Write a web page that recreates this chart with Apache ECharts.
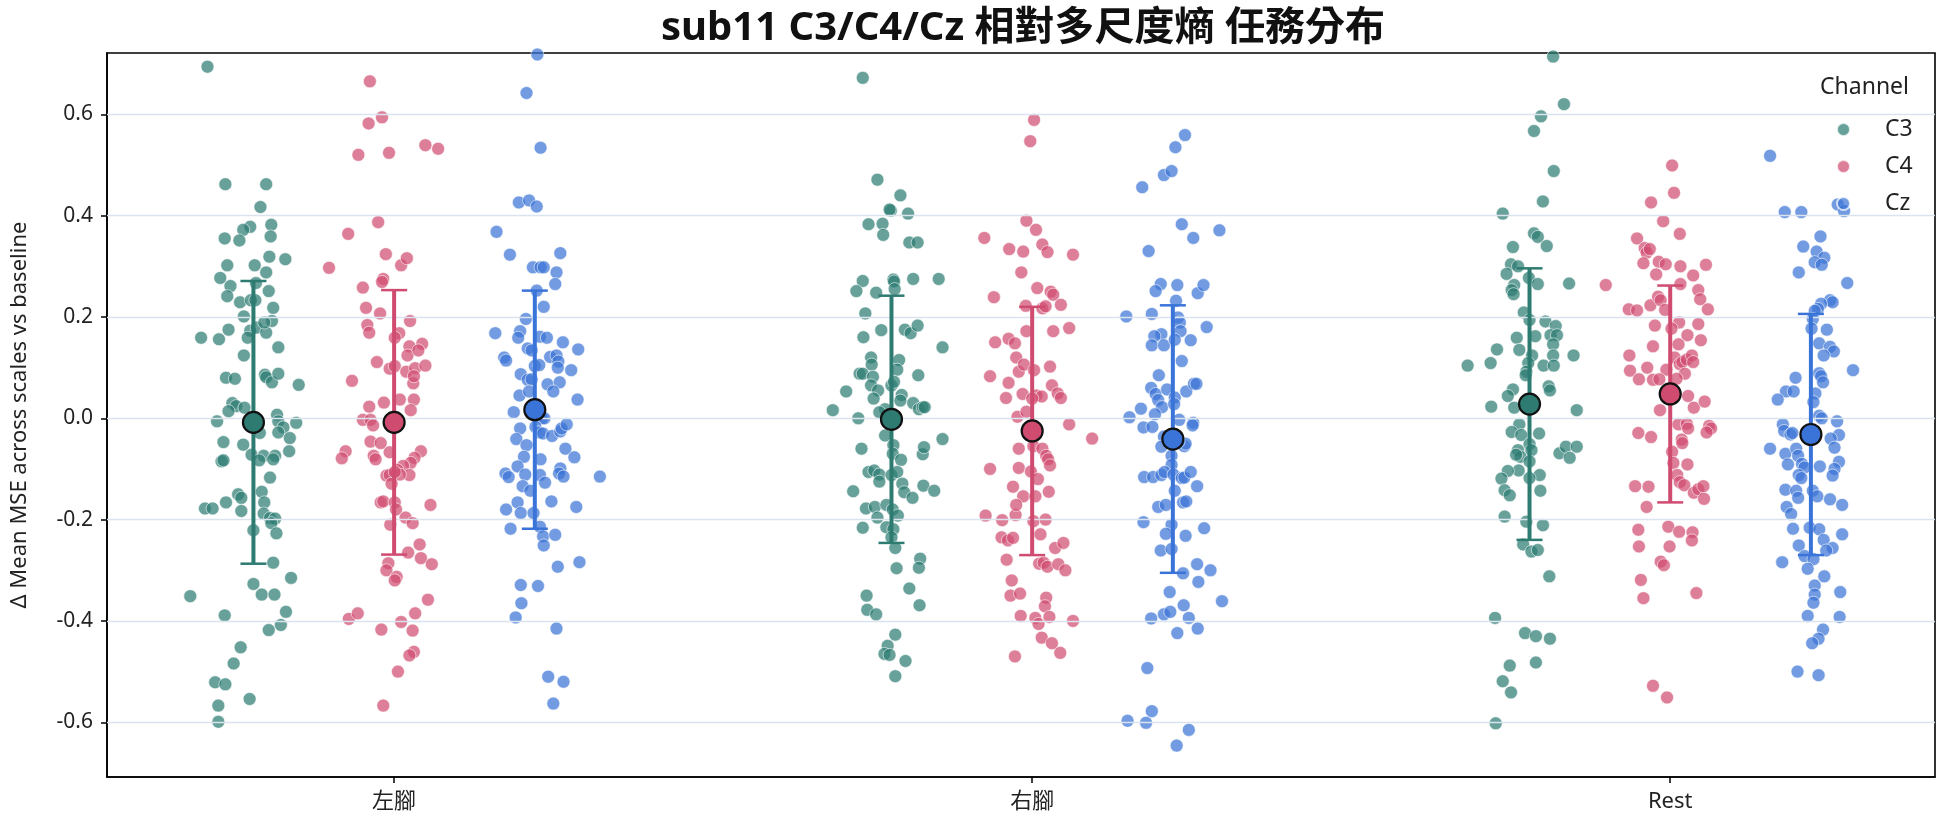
<!DOCTYPE html>
<html>
<head>
<meta charset="utf-8">
<script src="https://cdn.jsdelivr.net/npm/echarts@6/dist/echarts.min.js"></script>
<style>html,body{margin:0;padding:0;background:#fff}#chart{width:1944px;height:827px}</style>
</head>
<body>
<div id="chart"></div>
<script>
var tasks = ['左腳', '右腳', 'Rest'];
var channels = ['C3', 'C4', 'Cz'];
var yTicks = [-0.6, -0.4, -0.2, 0, 0.2, 0.4, 0.6];

// [jitter (category units), value]
var c3Left = [[-0.072,0.694],[-0.044,0.462],[0.020,0.462],[0.011,0.417],[-0.005,0.378],[-0.016,0.372],[0.028,0.382],[-0.045,0.355],[-0.022,0.351],[0.027,0.359],[0.025,0.319],[0.050,0.314],[-0.041,0.302],[0.002,0.302],[0.020,0.288],[-0.052,0.277],[-0.036,0.261],[0.004,0.267],[-0.041,0.241],[0.024,0.251],[-0.021,0.229],[-0.004,0.233],[0.003,0.233],[0.031,0.218],[-0.015,0.201],[-0.039,0.175],[-0.082,0.159],[-0.054,0.156],[-0.005,0.173],[0.005,0.179],[0.020,0.169],[0.029,0.192],[0.017,0.189],[-0.009,0.159],[0.039,0.140],[-0.015,0.124],[-0.043,0.080],[-0.029,0.078],[0.018,0.086],[0.020,0.081],[0.029,0.071],[0.039,0.088],[0.071,0.066],[-0.033,0.030],[-0.027,0.024],[-0.039,0.014],[-0.014,0.021],[-0.057,-0.006],[0.037,0.007],[0.039,-0.006],[0.047,-0.018],[0.067,-0.009],[0.039,-0.028],[0.057,-0.039],[-0.047,-0.047],[-0.016,-0.052],[-0.003,-0.072],[0.010,-0.029],[-0.050,-0.085],[-0.047,-0.083],[0.016,-0.074],[0.034,-0.074],[0.031,-0.081],[0.056,-0.065],[0.009,-0.083],[0.026,-0.117],[0.013,-0.145],[-0.024,-0.150],[-0.019,-0.157],[-0.043,-0.166],[0.017,-0.166],[-0.076,-0.178],[-0.064,-0.178],[-0.019,-0.183],[0.016,-0.188],[0.026,-0.197],[0.034,-0.198],[0.028,-0.207],[0.036,-0.227],[0.000,-0.221],[0.031,-0.285],[0.059,-0.315],[0.000,-0.327],[0.013,-0.348],[0.033,-0.348],[-0.099,-0.351],[-0.045,-0.389],[0.051,-0.382],[0.043,-0.408],[0.024,-0.418],[-0.020,-0.452],[-0.031,-0.484],[-0.060,-0.521],[-0.044,-0.525],[-0.055,-0.567],[-0.006,-0.554],[-0.055,-0.599]];
var c4Left = [[-0.038,0.665],[-0.040,0.582],[-0.019,0.594],[-0.056,0.520],[-0.008,0.524],[0.049,0.539],[0.069,0.532],[-0.025,0.387],[-0.072,0.364],[-0.013,0.324],[0.011,0.302],[0.020,0.316],[-0.102,0.297],[-0.049,0.258],[-0.017,0.275],[-0.019,0.269],[-0.044,0.218],[-0.022,0.207],[0.025,0.192],[-0.042,0.184],[-0.039,0.169],[0.008,0.168],[0.001,0.159],[0.024,0.142],[0.044,0.147],[0.021,0.124],[0.038,0.134],[-0.027,0.111],[-0.007,0.098],[0.001,0.103],[0.019,0.092],[0.033,0.099],[0.049,0.104],[0.030,0.069],[0.031,0.083],[-0.066,0.074],[-0.016,0.031],[0.009,0.037],[0.031,0.037],[0.026,0.016],[-0.039,0.023],[-0.049,-0.003],[-0.037,-0.003],[-0.033,-0.014],[-0.037,-0.046],[-0.021,-0.049],[-0.076,-0.065],[-0.082,-0.079],[-0.032,-0.074],[-0.029,-0.081],[-0.007,-0.067],[0.042,-0.065],[0.032,-0.078],[0.026,-0.088],[0.014,-0.094],[0.005,-0.102],[-0.012,-0.113],[-0.007,-0.112],[0.024,-0.112],[0.009,-0.111],[-0.004,-0.129],[0.001,-0.106],[-0.021,-0.166],[-0.017,-0.164],[0.001,-0.166],[0.003,-0.180],[0.057,-0.171],[0.018,-0.196],[0.029,-0.207],[-0.006,-0.210],[0.022,-0.265],[0.040,-0.249],[0.042,-0.276],[0.059,-0.288],[-0.009,-0.286],[-0.012,-0.300],[0.004,-0.313],[0.001,-0.320],[0.053,-0.358],[-0.071,-0.396],[-0.057,-0.385],[0.011,-0.402],[0.033,-0.385],[0.029,-0.419],[-0.020,-0.417],[0.031,-0.461],[0.024,-0.468],[0.006,-0.500],[-0.017,-0.567]];
var czLeft = [[0.004,0.718],[-0.013,0.642],[0.009,0.534],[-0.025,0.426],[-0.009,0.430],[0.003,0.418],[-0.060,0.368],[-0.039,0.323],[0.040,0.326],[-0.003,0.298],[0.009,0.298],[0.014,0.298],[0.034,0.288],[0.032,0.265],[0.003,0.252],[0.014,0.220],[-0.014,0.196],[-0.062,0.168],[-0.023,0.172],[-0.026,0.159],[0.008,0.161],[0.019,0.159],[0.044,0.150],[0.068,0.136],[-0.048,0.120],[-0.045,0.114],[-0.011,0.138],[-0.005,0.134],[0.000,0.103],[0.007,0.105],[0.024,0.121],[0.034,0.124],[0.037,0.112],[0.036,0.100],[0.057,0.095],[-0.022,0.087],[-0.011,0.076],[-0.005,0.077],[0.020,0.067],[0.039,0.071],[0.029,0.053],[-0.024,0.045],[-0.009,0.053],[0.067,0.037],[-0.033,0.012],[0.011,0.000],[0.015,0.000],[-0.023,-0.020],[-0.029,-0.041],[-0.013,-0.053],[0.001,-0.017],[0.007,-0.028],[0.013,-0.030],[0.027,-0.035],[0.040,-0.026],[0.042,-0.020],[0.050,-0.012],[0.048,-0.060],[0.062,-0.077],[-0.017,-0.076],[0.009,-0.081],[-0.027,-0.095],[-0.046,-0.109],[-0.041,-0.116],[-0.015,-0.111],[0.008,-0.112],[0.016,-0.127],[-0.019,-0.134],[-0.007,-0.143],[0.040,-0.099],[0.038,-0.109],[0.045,-0.115],[0.102,-0.115],[0.026,-0.164],[-0.027,-0.166],[-0.045,-0.180],[-0.022,-0.187],[-0.002,-0.187],[0.065,-0.175],[-0.038,-0.218],[0.008,-0.214],[0.013,-0.233],[0.014,-0.251],[0.032,-0.230],[0.036,-0.293],[0.070,-0.284],[-0.022,-0.329],[0.005,-0.331],[-0.021,-0.365],[-0.030,-0.393],[0.034,-0.415],[0.021,-0.510],[0.045,-0.520],[0.029,-0.563]];
var c3Right = [[-0.045,0.672],[-0.022,0.471],[0.014,0.440],[-0.001,0.410],[-0.003,0.412],[0.026,0.404],[-0.036,0.383],[-0.014,0.384],[-0.013,0.362],[0.028,0.347],[0.041,0.347],[-0.045,0.271],[-0.055,0.251],[-0.024,0.248],[0.003,0.274],[0.004,0.270],[0.005,0.255],[0.034,0.275],[0.074,0.275],[-0.041,0.207],[-0.044,0.160],[-0.016,0.174],[0.021,0.175],[0.030,0.168],[0.041,0.183],[0.080,0.140],[-0.032,0.120],[-0.031,0.106],[0.012,0.115],[0.009,0.096],[-0.050,0.088],[-0.045,0.088],[-0.029,0.082],[0.042,0.085],[-0.032,0.065],[-0.021,0.055],[0.000,0.065],[0.004,0.072],[-0.071,0.053],[-0.028,0.039],[0.016,0.046],[0.014,0.035],[0.034,0.030],[0.043,0.018],[0.049,0.022],[0.052,0.022],[-0.010,0.018],[-0.019,0.012],[-0.092,0.016],[-0.052,0.000],[-0.010,-0.034],[-0.047,-0.060],[0.003,-0.053],[0.002,-0.070],[0.015,-0.082],[0.049,-0.071],[0.051,-0.057],[0.080,-0.041],[-0.036,-0.106],[-0.027,-0.103],[-0.019,-0.111],[-0.019,-0.125],[0.000,-0.112],[0.009,-0.106],[0.017,-0.129],[0.020,-0.146],[0.033,-0.157],[0.050,-0.133],[0.067,-0.143],[-0.060,-0.144],[-0.040,-0.178],[-0.026,-0.175],[-0.022,-0.196],[-0.008,-0.171],[0.002,-0.180],[0.010,-0.192],[-0.045,-0.216],[-0.008,-0.215],[0.003,-0.219],[0.000,-0.235],[0.006,-0.256],[0.045,-0.277],[0.043,-0.295],[0.008,-0.296],[0.028,-0.336],[0.044,-0.369],[-0.039,-0.350],[-0.038,-0.378],[-0.024,-0.387],[0.006,-0.427],[-0.006,-0.449],[-0.011,-0.465],[-0.003,-0.467],[0.022,-0.479],[0.006,-0.509]];
var c4Right = [[0.003,0.589],[-0.003,0.547],[-0.009,0.390],[0.006,0.372],[-0.075,0.356],[-0.036,0.334],[-0.014,0.329],[0.016,0.343],[0.024,0.328],[0.064,0.323],[-0.017,0.288],[-0.060,0.239],[0.008,0.257],[0.029,0.250],[0.033,0.244],[0.045,0.224],[-0.010,0.222],[0.016,0.217],[0.021,0.221],[-0.009,0.172],[0.033,0.172],[0.058,0.178],[-0.058,0.150],[-0.037,0.157],[-0.027,0.148],[-0.025,0.120],[-0.066,0.083],[-0.037,0.070],[-0.021,0.092],[-0.013,0.106],[0.003,0.095],[0.028,0.102],[-0.041,0.040],[-0.015,0.048],[0.007,0.045],[0.015,0.043],[0.031,0.065],[0.040,0.049],[0.045,0.040],[-0.023,0.003],[-0.009,0.013],[0.000,0.039],[0.058,-0.012],[0.094,-0.040],[-0.021,-0.060],[0.002,-0.055],[0.016,-0.060],[0.022,-0.074],[0.025,-0.081],[0.028,-0.093],[-0.066,-0.100],[-0.021,-0.098],[-0.002,-0.105],[0.009,-0.120],[-0.030,-0.135],[-0.014,-0.154],[0.005,-0.154],[0.026,-0.145],[-0.073,-0.192],[-0.047,-0.201],[-0.026,-0.191],[-0.025,-0.171],[0.002,-0.203],[0.021,-0.200],[0.013,-0.229],[-0.048,-0.235],[-0.038,-0.241],[-0.030,-0.236],[-0.040,-0.279],[0.036,-0.256],[0.049,-0.246],[0.011,-0.287],[0.018,-0.285],[0.024,-0.293],[0.041,-0.288],[0.052,-0.300],[-0.032,-0.320],[-0.034,-0.350],[-0.019,-0.346],[0.022,-0.354],[0.020,-0.371],[-0.018,-0.390],[0.005,-0.394],[0.010,-0.406],[0.027,-0.392],[0.064,-0.400],[0.015,-0.433],[0.031,-0.444],[0.044,-0.463],[-0.027,-0.470]];
var czRight = [[0.019,0.559],[0.004,0.535],[-0.014,0.480],[-0.002,0.488],[-0.048,0.456],[0.014,0.383],[0.032,0.356],[0.073,0.371],[-0.038,0.330],[-0.019,0.265],[0.007,0.263],[-0.027,0.251],[0.039,0.247],[0.048,0.263],[0.005,0.232],[0.008,0.199],[-0.073,0.201],[-0.033,0.206],[0.011,0.189],[0.012,0.172],[-0.018,0.166],[-0.029,0.162],[-0.033,0.144],[-0.014,0.144],[0.003,0.155],[0.028,0.154],[0.053,0.180],[0.014,0.113],[-0.022,0.085],[-0.034,0.060],[-0.027,0.048],[-0.009,0.057],[0.003,0.041],[0.021,0.053],[0.033,0.068],[0.037,0.068],[-0.023,0.036],[-0.017,0.022],[0.002,0.028],[-0.050,0.019],[-0.028,0.008],[-0.068,0.002],[-0.046,-0.018],[-0.032,-0.017],[0.010,-0.003],[0.032,-0.009],[0.031,-0.014],[-0.014,-0.036],[-0.018,-0.056],[0.018,-0.055],[0.020,-0.050],[0.009,-0.046],[-0.002,-0.074],[-0.002,-0.092],[-0.045,-0.116],[-0.031,-0.116],[-0.018,-0.112],[-0.013,-0.106],[0.001,-0.111],[0.014,-0.118],[0.018,-0.117],[0.028,-0.106],[0.038,-0.134],[0.003,-0.143],[-0.023,-0.175],[-0.011,-0.171],[0.016,-0.166],[0.021,-0.164],[-0.046,-0.205],[-0.002,-0.210],[0.049,-0.217],[-0.011,-0.228],[0.020,-0.232],[-0.019,-0.261],[-0.002,-0.258],[0.038,-0.288],[0.059,-0.300],[0.040,-0.323],[0.016,-0.306],[-0.005,-0.343],[0.077,-0.361],[0.017,-0.369],[-0.014,-0.387],[-0.004,-0.382],[-0.034,-0.395],[0.025,-0.394],[0.039,-0.415],[0.007,-0.424],[-0.040,-0.493],[-0.033,-0.578],[-0.042,-0.601],[-0.071,-0.597],[0.025,-0.615],[0.006,-0.646]];
var c3Rest = [[0.037,0.714],[0.054,0.620],[0.018,0.596],[0.007,0.567],[0.038,0.488],[0.021,0.428],[-0.042,0.404],[0.007,0.365],[0.013,0.358],[0.027,0.340],[-0.026,0.338],[-0.029,0.304],[-0.018,0.300],[-0.036,0.285],[-0.001,0.277],[0.013,0.265],[0.062,0.266],[-0.024,0.263],[-0.028,0.253],[-0.025,0.245],[-0.009,0.209],[0.000,0.194],[0.025,0.191],[0.041,0.182],[-0.020,0.159],[0.009,0.162],[0.033,0.164],[0.043,0.164],[0.037,0.146],[-0.051,0.136],[-0.016,0.135],[-0.061,0.109],[-0.097,0.104],[0.004,0.124],[0.037,0.124],[0.069,0.124],[-0.002,0.109],[-0.005,0.092],[0.022,0.104],[0.038,0.104],[-0.006,0.085],[-0.026,0.057],[-0.034,0.044],[0.030,0.063],[0.032,0.055],[-0.060,0.023],[-0.024,0.021],[0.074,0.016],[-0.016,-0.012],[-0.028,-0.027],[-0.013,-0.033],[0.015,-0.030],[0.000,-0.051],[-0.018,-0.063],[0.003,-0.063],[-0.014,-0.076],[-0.021,-0.072],[0.000,-0.085],[0.047,-0.069],[0.057,-0.056],[0.074,-0.056],[0.063,-0.078],[-0.017,-0.103],[-0.034,-0.104],[-0.044,-0.119],[0.016,-0.112],[0.000,-0.118],[0.017,-0.143],[-0.039,-0.142],[-0.031,-0.152],[-0.039,-0.194],[-0.005,-0.204],[0.021,-0.211],[-0.010,-0.249],[0.003,-0.263],[0.013,-0.260],[0.031,-0.312],[-0.054,-0.394],[-0.007,-0.424],[0.010,-0.430],[0.032,-0.435],[-0.031,-0.488],[0.010,-0.482],[-0.042,-0.519],[-0.029,-0.541],[-0.053,-0.602]];
var c4Rest = [[0.003,0.499],[0.006,0.445],[-0.030,0.426],[-0.011,0.389],[0.015,0.364],[-0.052,0.355],[-0.040,0.336],[-0.037,0.327],[-0.032,0.334],[-0.042,0.306],[-0.018,0.309],[-0.007,0.304],[0.016,0.300],[0.056,0.303],[-0.022,0.284],[0.036,0.282],[-0.101,0.263],[0.016,0.265],[0.044,0.253],[0.047,0.235],[0.059,0.215],[-0.065,0.215],[-0.052,0.213],[-0.031,0.223],[-0.019,0.240],[-0.015,0.233],[-0.008,0.214],[-0.024,0.183],[0.014,0.189],[0.002,0.177],[0.044,0.186],[0.027,0.164],[0.048,0.154],[-0.027,0.142],[0.013,0.146],[-0.064,0.124],[-0.063,0.094],[-0.036,0.100],[-0.049,0.077],[-0.006,0.096],[0.007,0.120],[0.015,0.107],[0.019,0.111],[0.026,0.116],[0.034,0.124],[0.036,0.111],[0.023,0.088],[0.010,0.078],[-0.027,0.076],[-0.017,0.077],[0.028,0.044],[0.037,0.021],[0.054,0.033],[-0.016,0.016],[-0.050,-0.029],[-0.030,-0.037],[0.013,-0.012],[0.026,-0.011],[0.028,-0.020],[0.018,-0.042],[0.019,-0.049],[0.061,-0.015],[0.064,-0.020],[0.057,-0.028],[0.003,-0.066],[0.005,-0.088],[0.027,-0.091],[-0.055,-0.134],[-0.034,-0.135],[-0.037,-0.175],[0.011,-0.112],[0.015,-0.126],[0.022,-0.132],[0.037,-0.147],[0.044,-0.140],[0.052,-0.134],[0.053,-0.159],[-0.050,-0.220],[-0.049,-0.253],[-0.003,-0.214],[0.014,-0.224],[0.035,-0.225],[0.034,-0.241],[-0.001,-0.253],[-0.015,-0.283],[-0.010,-0.290],[-0.046,-0.319],[-0.042,-0.355],[0.041,-0.345],[-0.027,-0.528],[-0.005,-0.551]];
var czRest = [[-0.064,0.518],[-0.041,0.407],[-0.015,0.407],[0.042,0.422],[0.052,0.409],[0.015,0.359],[-0.012,0.339],[0.009,0.329],[0.021,0.317],[0.006,0.308],[0.017,0.303],[-0.019,0.288],[0.057,0.267],[0.030,0.233],[0.034,0.229],[0.016,0.226],[0.011,0.216],[0.006,0.212],[0.003,0.196],[0.001,0.177],[0.025,0.175],[0.013,0.148],[0.030,0.141],[0.036,0.132],[0.020,0.124],[0.066,0.095],[0.013,0.089],[0.016,0.083],[0.019,0.071],[-0.024,0.080],[-0.039,0.053],[-0.027,0.053],[-0.052,0.037],[0.007,0.049],[0.004,0.032],[0.013,0.005],[0.017,0.000],[-0.044,-0.012],[-0.042,-0.025],[-0.032,-0.032],[-0.029,-0.029],[0.041,-0.006],[0.044,-0.033],[0.031,-0.040],[0.037,-0.058],[-0.064,-0.060],[-0.040,-0.070],[-0.023,-0.060],[-0.020,-0.074],[-0.036,-0.091],[-0.014,-0.090],[-0.010,-0.097],[0.014,-0.095],[0.044,-0.086],[0.037,-0.100],[0.034,-0.113],[-0.019,-0.112],[-0.015,-0.118],[-0.040,-0.141],[-0.023,-0.143],[-0.020,-0.157],[0.003,-0.143],[0.010,-0.154],[0.030,-0.160],[0.049,-0.171],[-0.038,-0.175],[-0.031,-0.189],[-0.028,-0.218],[-0.002,-0.216],[0.013,-0.219],[0.049,-0.229],[0.020,-0.240],[-0.019,-0.251],[-0.010,-0.272],[0.004,-0.278],[0.034,-0.256],[0.024,-0.261],[-0.045,-0.284],[-0.005,-0.297],[0.021,-0.312],[0.006,-0.330],[0.006,-0.348],[0.004,-0.364],[0.046,-0.343],[-0.005,-0.390],[0.045,-0.392],[0.019,-0.417],[0.012,-0.435],[0.002,-0.444],[-0.021,-0.500],[0.012,-0.507]];

// mean and standard deviation per task (左腳, 右腳, Rest)
var meanC3 = [-0.008, -0.002, 0.028];
var sdC3 = [0.279, 0.244, 0.268];
var meanC4 = [-0.008, -0.025, 0.048];
var sdC4 = [0.261, 0.245, 0.214];
var meanCz = [0.017, -0.041, -0.032];
var sdCz = [0.235, 0.264, 0.238];

var points = { C3: [c3Left, c3Right, c3Rest], C4: [c4Left, c4Right, c4Rest], Cz: [czLeft, czRight, czRest] };
var means = { C3: meanC3, C4: meanC4, Cz: meanCz };
var sds = { C3: sdC3, C4: sdC4, Cz: sdCz };

var dotColors = ['#2E7D73', '#D14D72', '#3B75D6'];
var meanColors = ['#2E7B71', '#CF4C70', '#3B74D8'];
var hueOffset = [-0.2205, 0, 0.2205];
var FONT = '"Noto Sans", "Noto Sans CJK TC", sans-serif';

var chart = echarts.init(document.getElementById('chart'));

var series = [{
    name: 'grid', type: 'scatter', data: [], z: 1, silent: true,
    markLine: {
        silent: true, symbol: 'none', label: { show: false },
        lineStyle: { color: '#dae4ee', width: 1.3, type: 'solid' },
        data: yTicks.map(function (v) { return { yAxis: v }; })
    }
}];

channels.forEach(function (ch, ci) {
    var data = [];
    points[ch].forEach(function (arr, ti) {
        arr.forEach(function (p) {
            data.push([ti + hueOffset[ci] + p[0], p[1]]);
        });
    });
    series.push({
        name: ch, type: 'scatter', data: data, symbolSize: 13, z: 3,
        itemStyle: { color: dotColors[ci], opacity: 0.72, borderColor: '#ffffff', borderWidth: 0.8 }
    });
});

channels.forEach(function (ch, ci) {
    series.push({
        name: ch + ' sd', type: 'custom', z: 5,
        data: tasks.map(function (t, ti) {
            return [ti + hueOffset[ci], means[ch][ti] - sds[ch][ti], means[ch][ti] + sds[ch][ti]];
        }),
        encode: { x: 0, y: [1, 2] },
        renderItem: function (params, api) {
            var lo = api.coord([api.value(0), api.value(1)]);
            var hi = api.coord([api.value(0), api.value(2)]);
            var bar = { stroke: meanColors[ci], lineWidth: 4 };
            var cap = { stroke: meanColors[ci], lineWidth: 2.5 };
            return {
                type: 'group', children: [
                    { type: 'line', shape: { x1: lo[0], y1: lo[1], x2: hi[0], y2: hi[1] }, style: bar },
                    { type: 'line', shape: { x1: lo[0] - 13, y1: lo[1], x2: lo[0] + 13, y2: lo[1] }, style: cap },
                    { type: 'line', shape: { x1: hi[0] - 13, y1: hi[1], x2: hi[0] + 13, y2: hi[1] }, style: cap }
                ]
            };
        }
    });
    series.push({
        name: ch + ' mean', type: 'scatter', z: 6, symbolSize: 21,
        data: tasks.map(function (t, ti) { return [ti + hueOffset[ci], means[ch][ti]]; }),
        itemStyle: { color: meanColors[ci], borderColor: '#111111', borderWidth: 2.2, opacity: 1 }
    });
});

var option = {
    backgroundColor: '#ffffff',
    animation: false,
    textStyle: { fontFamily: FONT },
    title: {
        text: 'sub11 C3/C4/Cz 相對多尺度熵 任務分布',
        left: 1018, top: 4, textAlign: 'center',
        textStyle: { fontFamily: FONT, fontSize: 40, fontWeight: 'bold', color: '#111' }
    },
    grid: { left: 107, right: 9, top: 53, bottom: 50, show: true, borderColor: '#000', borderWidth: 1.6 },
    legend: {
        data: channels, orient: 'vertical', left: 1831, top: 113,
        icon: 'circle', itemWidth: 13, itemHeight: 13, itemGap: 14,
        textStyle: { fontFamily: FONT, fontSize: 23, color: '#222', padding: [0, 0, 0, 30], lineHeight: 23 }
    },
    graphic: [{
        type: 'text', right: 35, top: 76,
        style: { text: 'Channel', fontFamily: FONT, fontSize: 23, fill: '#222' }
    }],
    xAxis: {
        type: 'value', min: -0.45, max: 2.415,
        axisLine: { show: true, onZero: false, lineStyle: { color: '#000', width: 1.6 } },
        axisTick: { show: true, length: 6, customValues: [0, 1, 2], lineStyle: { color: '#000', width: 1.5 } },
        axisLabel: {
            customValues: [0, 1, 2], margin: 14, fontSize: 22, color: '#222', fontFamily: FONT,
            formatter: function (v) { return tasks[Math.round(v)]; }
        },
        splitLine: { show: false }
    },
    yAxis: {
        type: 'value', min: -0.708, max: 0.721,
        name: 'Δ Mean MSE across scales vs baseline', nameLocation: 'middle', nameGap: 76,
        nameTextStyle: { fontFamily: FONT, fontSize: 22, color: '#222' },
        axisLine: { show: true, onZero: false, lineStyle: { color: '#000', width: 1.6 } },
        axisTick: { show: true, length: 6, customValues: yTicks, lineStyle: { color: '#000', width: 1.5 } },
        axisLabel: {
            customValues: yTicks, margin: 14, fontSize: 21, color: '#222', fontFamily: FONT,
            formatter: function (v) { return v.toFixed(1); }
        },
        splitLine: { show: false }
    },
    series: series
};

chart.setOption(option);
</script>
</body>
</html>
